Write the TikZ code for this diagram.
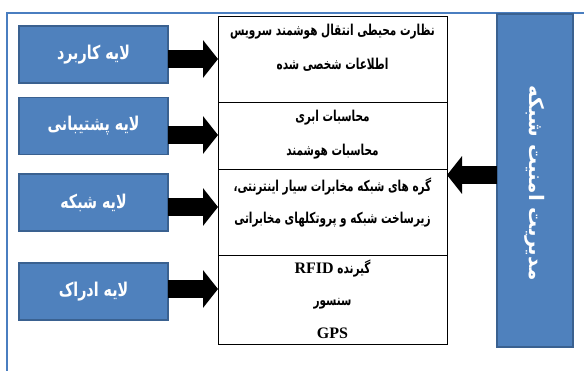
\documentclass[tikz,border=0pt]{standalone}
\usepackage{fontspec}
\setmainfont{Liberation Serif}
\newfontfamily\arabicfont[Script=Arabic]{DejaVu Sans}
\newfontfamily\arabicnarrow[Script=Arabic,FakeStretch=0.7]{DejaVu Sans}
\newfontfamily\arabiclayer[Script=Arabic,FakeStretch=0.75]{DejaVu Sans}
\TeXXeTstate=1
\usetikzlibrary{arrows.meta}
\definecolor{boxblue}{HTML}{4F81BD}
\definecolor{boxedge}{HTML}{3A6190}
\definecolor{framecol}{HTML}{4A7EC0}
\begin{document}
\begin{tikzpicture}[x=1pt,y=-1pt,
  layerbox/.style={draw=boxedge, line width=1.4pt, fill=boxblue, inner sep=0pt, outer sep=0pt,
    minimum width=149pt, minimum height=57pt, text=white,
    font=\arabiclayer\bfseries\fontsize{19}{21}\selectfont},
  rowbox/.style={draw=black, line width=0.9pt, inner sep=0pt, outer sep=0pt, minimum width=229pt},
  rowtext/.style={font=\arabicnarrow\bfseries\fontsize{15}{17}\selectfont, text=black, inner sep=0pt},
  latintext/.style={font=\rmfamily\bfseries\fontsize{16}{17}\selectfont},
  mgmt/.style={draw=boxedge, line width=1.4pt, fill=boxblue, inner sep=0pt, outer sep=0pt,
    minimum width=76pt, minimum height=333pt},
  bigarrow/.style={line width=18pt, -{Triangle[width=37pt,length=15pt]}, black}
]
\useasboundingbox (0,0) rectangle (584,370);
\fill[white] (0,0) rectangle (584,370);
% outer frame
\draw[framecol, line width=2pt] (7,372) -- (7,13) -- (586,13);

% left layer boxes
\node[layerbox] (b1) at (93.5,54.5) {\beginR لایه کاربرد\endR};
\node[layerbox] (b2) at (93.5,126) {\beginR لایه پشتیبانی\endR};
\node[layerbox] (b3) at (93.5,202.5) {\beginR لایه شبکه\endR};
\node[layerbox] (b4) at (93.5,291.5) {\beginR لایه ادراک\endR};

% central table rows
\node[rowbox, minimum height=86pt] (r1) at (332.5,59) {};
\node[rowbox, minimum height=67pt] (r2) at (332.5,135.5) {};
\node[rowbox, minimum height=86pt] (r3) at (332.5,212) {};
\node[rowbox, minimum height=89pt] (r4) at (332.5,299.5) {};

\node[rowtext] (t11) at (332.5,32) {\beginR نظارت محیطی انتقال هوشمند سرویس\endR};
\node[rowtext] (t12) at (332.5,65) {\beginR اطلاعات شخصی شده\endR};
\node[rowtext] (t21) at (332.5,118) {\beginR محاسبات ابری\endR};
\node[rowtext] (t22) at (332.5,152) {\beginR محاسبات هوشمند\endR};
\node[rowtext] (t31) at (332.5,187) {\beginR گره های شبکه مخابرات سیار اینترنتی،\endR};
\node[rowtext] (t32) at (332.5,220) {\beginR زیرساخت شبکه و پروتکلهای مخابراتی\endR};
\node[rowtext] (t41) at (332.5,269) {\beginR گیرنده \beginL{\rmfamily\bfseries\fontsize{16}{17}\selectfont RFID}\endL\endR};
\node[rowtext] (t42) at (332.5,304) {\beginR سنسور\endR};
\node[rowtext, latintext] (t43) at (332.5,333) {GPS};

% right management panel
\node[mgmt] (m) at (535,180.5) {};
\node[rotate=-90, text=white, font=\arabicfont\bfseries\fontsize{20}{22}\selectfont] (mt) at ([yshift=-2.5pt]m.center) {\beginR مدیریت امنیت شبکه\endR};

% arrows
\draw[bigarrow] ([yshift=-4.5pt]b1.east) -- ([yshift=-4.5pt]b1.east -| r1.west);
\draw[bigarrow] ([yshift=-9pt]b2.east) -- ([yshift=-9pt]b2.east -| r2.west);
\draw[bigarrow] ([yshift=-4.5pt]b3.east) -- ([yshift=-4.5pt]b3.east -| r3.west);
\draw[bigarrow] ([yshift=2.5pt]b4.east) -- ([yshift=2.5pt]b4.east -| r4.west);
\draw[bigarrow] ([yshift=5.5pt]m.west) -- ([yshift=5.5pt]m.west -| r3.east);
\end{tikzpicture}
\end{document}
